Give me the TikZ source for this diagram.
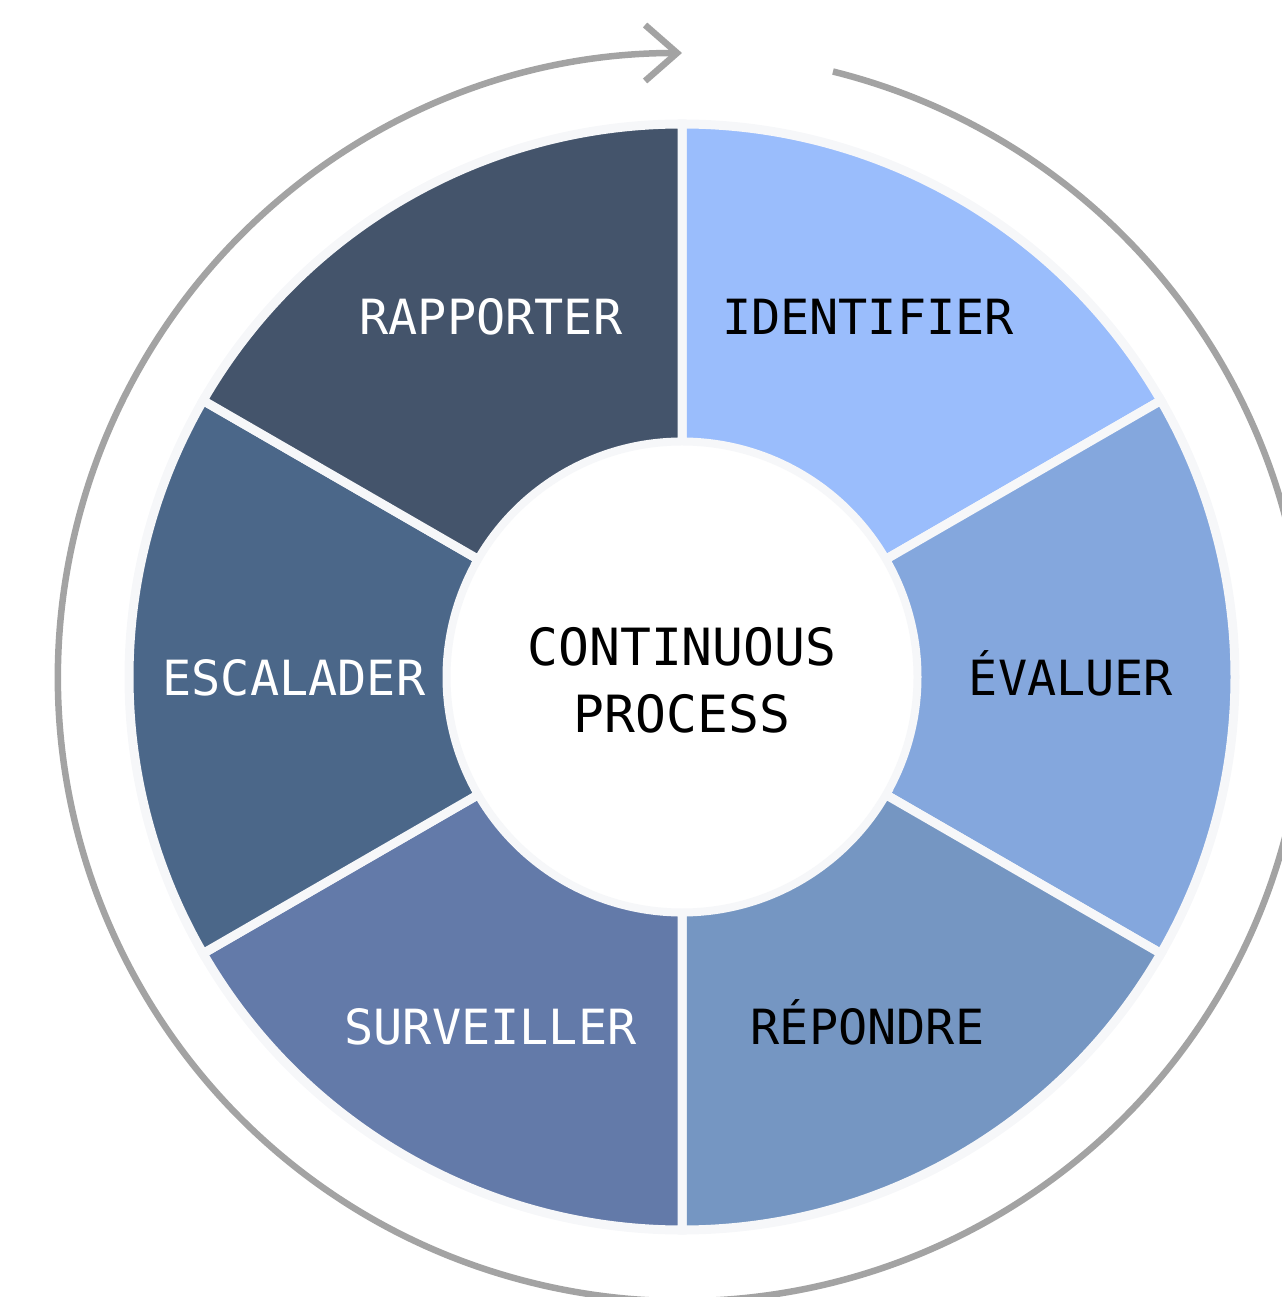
\documentclass[tikz,border=0pt]{standalone}
\usepackage{fontspec}
\newfontfamily\wheelfont{DejaVu Sans Mono}
\usetikzlibrary{arrows.meta}
\definecolor{ringgray}{HTML}{A3A3A3}
\definecolor{rimwhite}{HTML}{F6F7F9}
\definecolor{identcol}{HTML}{9ABDFC}
\definecolor{evalcol}{HTML}{84A7DD}
\definecolor{repcol}{HTML}{7596C2}
\definecolor{survcol}{HTML}{637AA9}
\definecolor{esccol}{HTML}{4B6789}
\definecolor{rapcol}{HTML}{44546B}
\def\rin{2.35}
\def\rout{5.53}
\def\sector[#1](#2:#3){\draw[#1] (#2:\rin) -- (#2:\rout) arc (#2:#3:\rout) -- (#3:\rin) arc (#3:#2:\rin) -- cycle;}
\tikzset{
  seg/.style={draw=rimwhite, line width=0.09cm, line join=miter},
  lbl/.style={font=\wheelfont\fontsize{13.8}{16}\selectfont, anchor=base, inner sep=0pt},
  midlbl/.style={lbl, font=\wheelfont\fontsize{14.6}{17}\selectfont},
}

\begin{document}
\begin{tikzpicture}
			%%%%% START %%%%%
			\useasboundingbox (-6.82, -6.20) rectangle (5.99, 6.77);
			
			\draw[ringgray, line width=0.065cm, -{Straight Barb[length=0.32cm, width=0.56cm]}] (76:6.24) arc (76:-270:6.24);
			
			\sector[seg, fill=identcol](90:30)
			\sector[seg, fill=evalcol](30:-30)
			\sector[seg, fill=repcol](-30:-90)
			\sector[seg, fill=survcol](-90:-150)
			\sector[seg, fill=esccol](-150:-210)
			\sector[seg, fill=rapcol](150:90)
			
			\draw[fill=white, draw=rimwhite, line width=0.03cm] (0, 0) circle (2.33);
			
			\node[lbl, text=black] (ident) at (1.86, 3.42) {IDENTIFIER};
			\node[lbl, text=black] (eval) at (3.89, -0.19) {ÉVALUER};
			\node[lbl, text=black] (rep) at (1.855, -3.67) {RÉPONDRE};
			\node[lbl, text=white] (surv) at (-1.915, -3.67) {SURVEILLER};
			\node[lbl, text=white] (esc) at (-3.88, -0.19) {ESCALADER};
			\node[lbl, text=white] (rap) at (-1.91, 3.42) {RAPPORTER};
			
			\node[midlbl, text=black] (cont) at (0, 0.11) {CONTINUOUS};
			\node[midlbl, text=black] (proc) at (0, -0.56) {PROCESS};
			
			%%%%% END %%%%%
\end{tikzpicture}
\end{document}
